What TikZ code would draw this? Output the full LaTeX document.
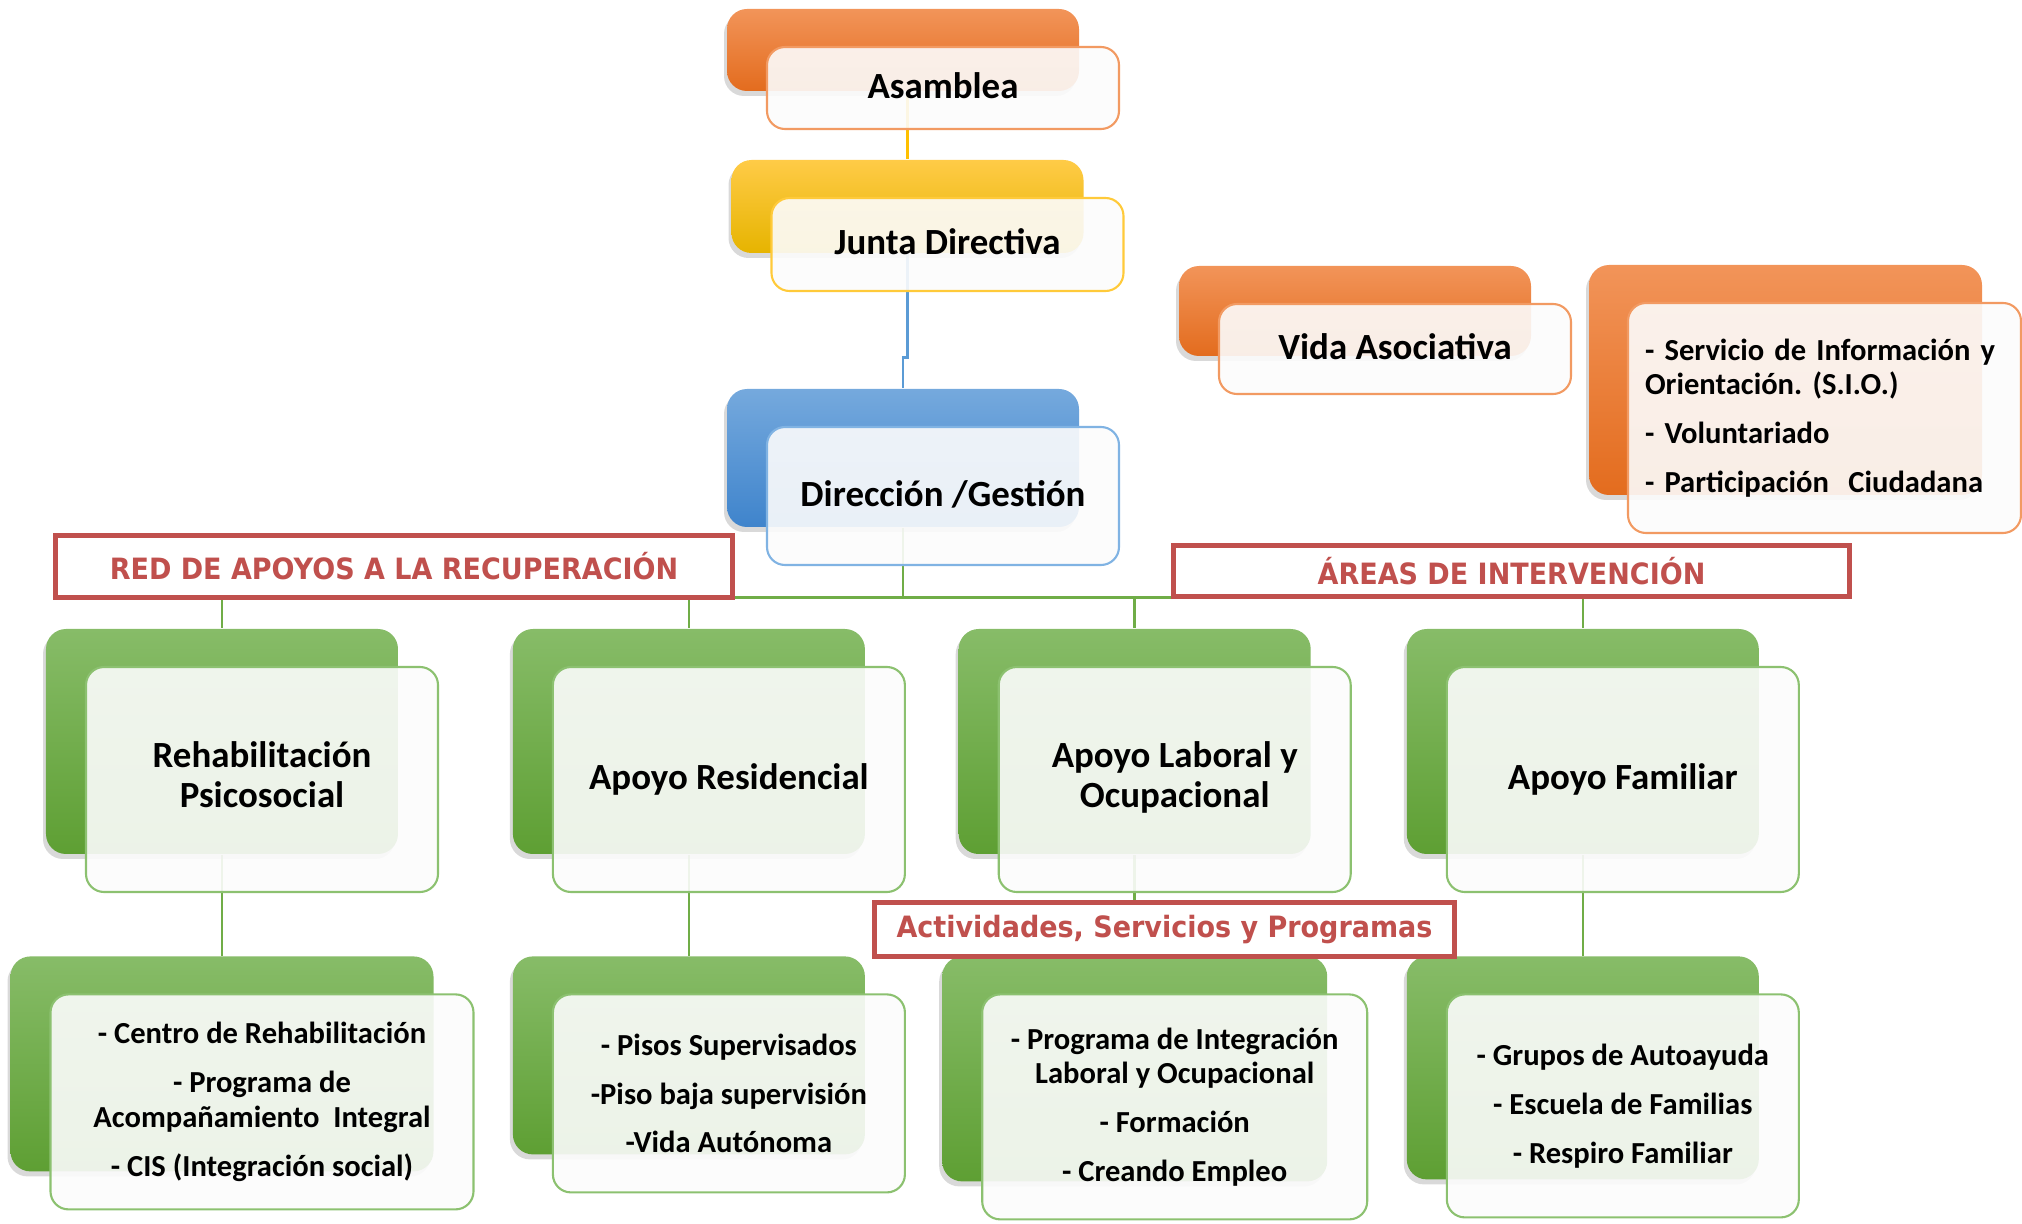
\documentclass[tikz,border=0pt]{standalone}
\usepackage{fontspec}
\setmainfont{Carlito}
\newfontfamily\tagfont[FakeStretch=0.92]{DejaVu Sans}
\usepackage{tikz}
\usetikzlibrary{calc,positioning,shadows,backgrounds}
\frenchspacing

\definecolor{orTop}{HTML}{F29459}
\definecolor{orBot}{HTML}{E36C1E}
\definecolor{orLine}{HTML}{F29A62}
\definecolor{ylTop}{HTML}{FFCB47}
\definecolor{ylBot}{HTML}{E6B400}
\definecolor{ylLine}{HTML}{FFCA3A}
\definecolor{blTop}{HTML}{75A9DD}
\definecolor{blBot}{HTML}{3F84CC}
\definecolor{blLine}{HTML}{80B3E3}
\definecolor{grTop}{HTML}{87BC68}
\definecolor{grBot}{HTML}{5E9F33}
\definecolor{grLine}{HTML}{8CC170}
\definecolor{cGold}{HTML}{FFC000}
\definecolor{cBlue}{HTML}{5B9BD5}
\definecolor{cGreen}{HTML}{70AD47}
\definecolor{tagRed}{HTML}{C0504D}

\begin{document}
\begin{tikzpicture}[align=center,
    back/.style={rounded corners=0.2cm, inner sep=0pt, minimum width=3.52cm,
        drop shadow={shadow xshift=-0.03cm, shadow yshift=-0.05cm, opacity=0.3}},
    orback/.style={back, top color=orTop, bottom color=orBot},
    ylback/.style={back, top color=ylTop, bottom color=ylBot},
    blback/.style={back, top color=blTop, bottom color=blBot},
    grback/.style={back, top color=grTop, bottom color=grBot},
    front/.style={draw=#1, line width=0.6pt, rounded corners=0.18cm, fill=black!1,
        fill opacity=0.9, text opacity=1, inner sep=0pt, minimum width=3.52cm,
        font=\fontsize{10.5}{11.5}\selectfont\bfseries},
    raised/.style={execute at end node={\rule[-#1]{0pt}{0pt}}},
    raised/.default=0.05cm,
    list/.style={font=\fontsize{8.7}{9.8}\selectfont\bfseries},
    tag/.style={draw=tagRed, line width=1.4pt, fill=white, inner sep=0pt, text=tagRed,
        font=\tagfont\fontsize{8.35}{10}\selectfont\bfseries},
    conn/.style={draw=#1, line width=0.7pt}
  ]
    \useasboundingbox (0,0) rectangle (20.22,-12.24);

    % top of the chart
    \node [orback, minimum height=0.82cm] (asB) at (9.03,-0.50) {};
    \node [front=orLine, raised, minimum height=0.82cm] (asF) at ([shift={(0.40,-0.38)}]asB.center) {Asamblea};

    \node [ylback, minimum height=0.93cm] (jdB) at (9.075,-2.065) {};
    \node [front=ylLine, raised, minimum height=0.93cm] (jdF) at ([shift={(0.40,-0.38)}]jdB.center) {Junta Directiva};

    \node [blback, minimum height=1.38cm] (dirB) at (9.03,-4.58) {};
    \node [front=blLine, raised, minimum height=1.38cm] (dirF) at ([shift={(0.40,-0.38)}]dirB.center) {Dirección /Gestión};

    \node [orback, minimum height=0.90cm] (vidB) at (13.55,-3.11) {};
    \node [front=orLine, raised, minimum height=0.90cm] (vidF) at ([shift={(0.40,-0.38)}]vidB.center) {Vida Asociativa};

    \node [orback, minimum width=3.93cm, minimum height=2.30cm] (sioB) at (17.855,-3.80) {};
    \node [front=orLine, minimum width=3.93cm, minimum height=2.30cm, list, text width=3.59cm,
        align=left, inner xsep=0.17cm] (sioF) at ([shift={(0.39,-0.38)}]sioB.center)
        {- Servicio de Información y\\Orientación. (S.I.O.)\\[4.1pt]- Voluntariado\\[4.1pt]- Participación\hspace{0.3em} Ciudadana};

    % areas
    \node [grback, minimum height=2.25cm] (rehB) at (2.22,-7.415) {};
    \node [grback, minimum height=2.25cm, right=1.135cm of rehB] (resB) {};
    \node [grback, minimum height=2.25cm, right=0.924cm of resB] (labB) {};
    \node [grback, minimum height=2.25cm, right=0.947cm of labB] (famB) {};

    \node [front=grLine, raised=0.1cm, minimum height=2.25cm] (rehF) at ([shift={(0.40,-0.38)}]rehB.center) {Rehabilitación\\Psicosocial};
    \node [front=grLine, raised, minimum height=2.25cm] (resF) at ([shift={(0.40,-0.38)}]resB.center) {Apoyo Residencial};
    \node [front=grLine, raised=0.1cm, minimum height=2.25cm] (labF) at ([shift={(0.40,-0.38)}]labB.center) {Apoyo Laboral y\\Ocupacional};
    \node [front=grLine, raised, minimum height=2.25cm] (famF) at ([shift={(0.40,-0.38)}]famB.center) {Apoyo Familiar};

    % activities, services and programmes
    \node [grback, minimum width=4.23cm, minimum height=2.15cm, below=1.01cm of rehB] (rehL) {};
    \node [grback, minimum height=1.98cm, below=1.01cm of resB] (resL) {};
    \node [grback, minimum width=3.85cm, minimum height=2.25cm, below=1.01cm of labB] (labL) {};
    \node [grback, minimum height=2.23cm, below=1.01cm of famB] (famL) {};

    \node [front=grLine, list, minimum width=4.23cm, minimum height=2.15cm] (rehLF) at ([shift={(0.40,-0.38)}]rehL.center)
        {- Centro de Rehabilitación\\[4.1pt]- Programa de\\Acompañamiento~ Integral\\[4.1pt]- CIS (Integración social)};
    \node [front=grLine, list, minimum height=1.98cm] (resLF) at ([shift={(0.40,-0.38)}]resL.center)
        {- Pisos Supervisados\\[4.1pt]-Piso baja supervisión\\[4.1pt]-Vida Autónoma};
    \node [front=grLine, list, minimum width=3.85cm, minimum height=2.25cm] (labLF) at ([shift={(0.40,-0.38)}]labL.center)
        {- Programa de Integración\\Laboral y Ocupacional\\[4.1pt]- Formación\\[4.1pt]- Creando Empleo};
    \node [front=grLine, list, minimum height=2.23cm] (famLF) at ([shift={(0.40,-0.38)}]famL.center)
        {- Grupos de Autoayuda\\[4.1pt]- Escuela de Familias\\[4.1pt]- Respiro Familiar};

    % red headings
    \node [tag, minimum width=6.77cm, minimum height=0.62cm] (redTag) at (3.94,-5.665) {RED DE APOYOS A LA RECUPERACIÓN};
    \node [tag, minimum width=6.76cm, minimum height=0.51cm] (areaTag) at (15.115,-5.71) {ÁREAS DE INTERVENCIÓN};
    \node [tag, minimum width=5.80cm, minimum height=0.54cm] (actTag) at (11.645,-9.295) {Actividades, Servicios y Programas};

    \begin{scope}[on background layer]
        \draw[conn=cGold] (asB.south -| jdB.north) -- (jdB.north);
        \draw[conn=cBlue] (jdB.south) -- ++(0,-1.04) -| (dirB.north);
        \coordinate (bus) at ($(dirB.south)+(0,-0.70)$);
        \draw[conn=cGreen] (dirB.south) -- (bus) -| (rehB.north);
        \draw[conn=cGreen] (bus) -| (resB.north);
        \draw[conn=cGreen] (bus) -| (labB.north);
        \draw[conn=cGreen] (bus) -| (famB.north);
        \draw[conn=cGreen] (rehB.south) -- (rehL.north);
        \draw[conn=cGreen] (resB.south) -- (resL.north);
        \draw[conn=cGreen] (labB.south) -- (labL.north);
        \draw[conn=cGreen] (famB.south) -- (famL.north);
    \end{scope}

\end{tikzpicture}
\end{document}
